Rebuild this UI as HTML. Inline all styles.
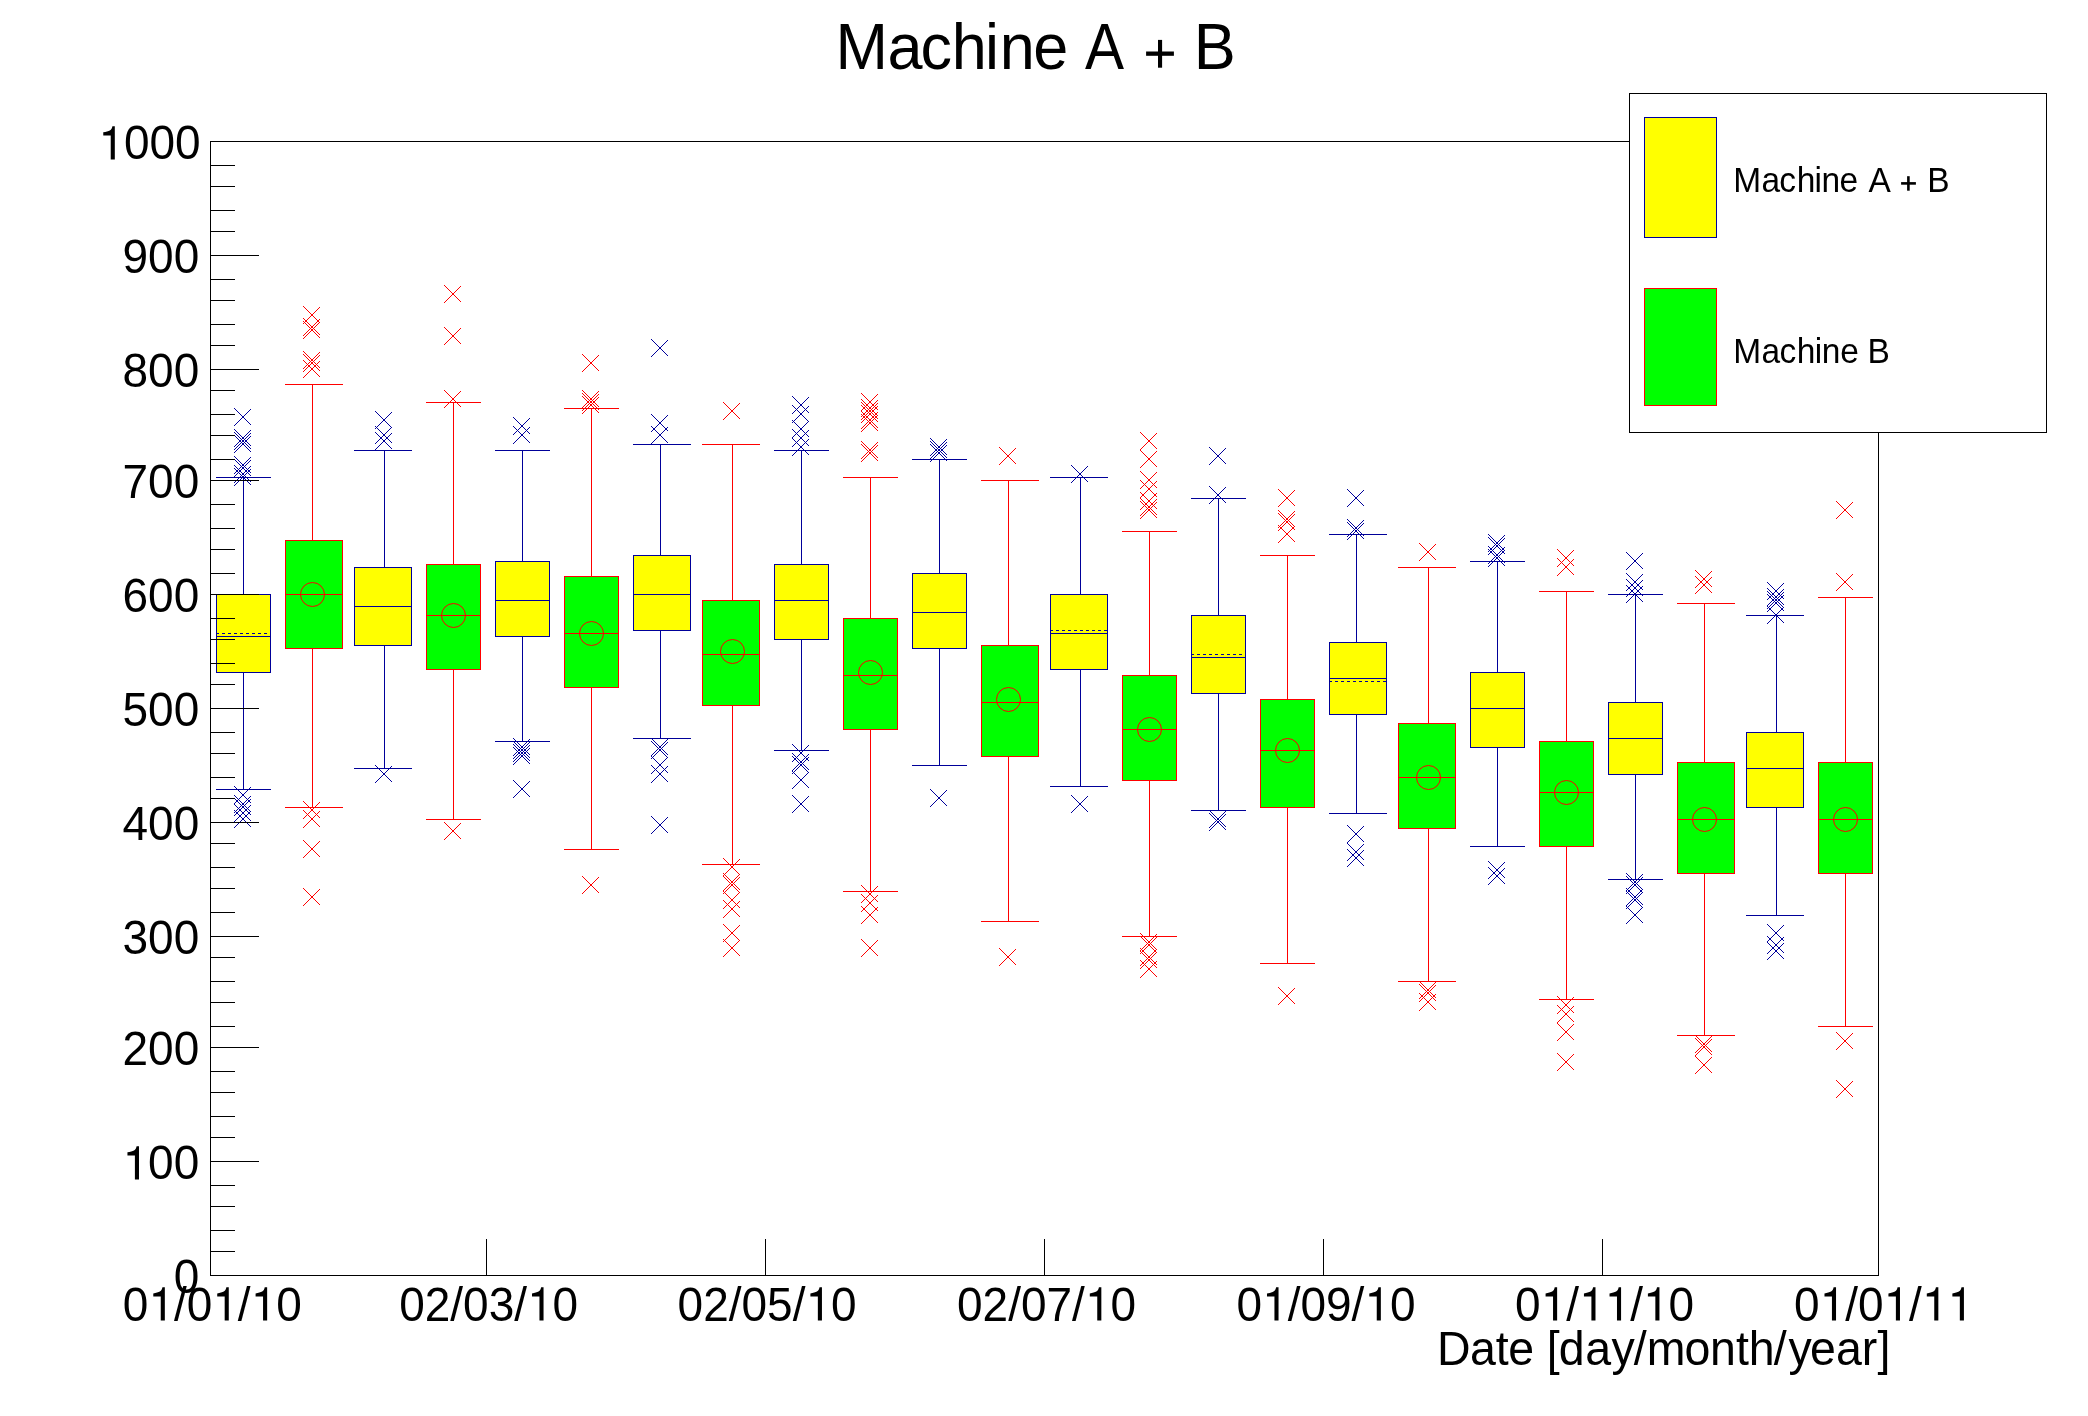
<!DOCTYPE html>
<html><head><meta charset="utf-8"><title>Machine A + B</title>
<style>
html,body{margin:0;padding:0;background:#fff;}
body{width:2088px;height:1416px;overflow:hidden;}
svg{display:block;will-change:transform;}
text{font-family:"Liberation Sans",sans-serif;fill:#000;font-kerning:none;}
</style></head><body>
<svg width="2088" height="1416" viewBox="0 0 2088 1416">
<rect x="0" y="0" width="2088" height="1416" fill="#fff"/>
<g shape-rendering="crispEdges">
<rect x="210" y="141" width="1669" height="1" fill="#000000"/>
<rect x="210" y="1275" width="1669" height="1" fill="#000000"/>
<rect x="210" y="141" width="1" height="1135" fill="#000000"/>
<rect x="1878" y="141" width="1" height="1135" fill="#000000"/>
<rect x="243" y="477" width="1" height="118" fill="#000099"/>
<rect x="243" y="672" width="1" height="118" fill="#000099"/>
<rect x="216" y="477" width="55" height="1" fill="#000099"/>
<rect x="216" y="789" width="55" height="1" fill="#000099"/>
<rect x="216" y="594" width="55" height="79" fill="#ffff00"/>
<rect x="216" y="594" width="55" height="1" fill="#000099"/>
<rect x="216" y="672" width="55" height="1" fill="#000099"/>
<rect x="216" y="594" width="1" height="79" fill="#000099"/>
<rect x="270" y="594" width="1" height="79" fill="#000099"/>
<rect x="216" y="636" width="55" height="1" fill="#000099"/>
<rect x="216" y="633" width="3" height="1" fill="#000099"/>
<rect x="222" y="633" width="3" height="1" fill="#000099"/>
<rect x="228" y="633" width="3" height="1" fill="#000099"/>
<rect x="234" y="633" width="3" height="1" fill="#000099"/>
<rect x="240" y="633" width="3" height="1" fill="#000099"/>
<rect x="246" y="633" width="3" height="1" fill="#000099"/>
<rect x="252" y="633" width="3" height="1" fill="#000099"/>
<rect x="258" y="633" width="3" height="1" fill="#000099"/>
<rect x="264" y="633" width="3" height="1" fill="#000099"/>
<rect x="312" y="384" width="1" height="157" fill="#ff0000"/>
<rect x="312" y="648" width="1" height="160" fill="#ff0000"/>
<rect x="285" y="384" width="58" height="1" fill="#ff0000"/>
<rect x="285" y="807" width="58" height="1" fill="#ff0000"/>
<rect x="285" y="540" width="58" height="109" fill="#00ff00"/>
<rect x="285" y="540" width="58" height="1" fill="#ff0000"/>
<rect x="285" y="648" width="58" height="1" fill="#ff0000"/>
<rect x="285" y="540" width="1" height="109" fill="#ff0000"/>
<rect x="342" y="540" width="1" height="109" fill="#ff0000"/>
<rect x="285" y="594" width="58" height="1" fill="#ff0000"/>
<rect x="384" y="450" width="1" height="118" fill="#000099"/>
<rect x="384" y="645" width="1" height="124" fill="#000099"/>
<rect x="354" y="450" width="58" height="1" fill="#000099"/>
<rect x="354" y="768" width="58" height="1" fill="#000099"/>
<rect x="354" y="567" width="58" height="79" fill="#ffff00"/>
<rect x="354" y="567" width="58" height="1" fill="#000099"/>
<rect x="354" y="645" width="58" height="1" fill="#000099"/>
<rect x="354" y="567" width="1" height="79" fill="#000099"/>
<rect x="411" y="567" width="1" height="79" fill="#000099"/>
<rect x="354" y="606" width="58" height="1" fill="#000099"/>
<rect x="453" y="402" width="1" height="163" fill="#ff0000"/>
<rect x="453" y="669" width="1" height="151" fill="#ff0000"/>
<rect x="426" y="402" width="55" height="1" fill="#ff0000"/>
<rect x="426" y="819" width="55" height="1" fill="#ff0000"/>
<rect x="426" y="564" width="55" height="106" fill="#00ff00"/>
<rect x="426" y="564" width="55" height="1" fill="#ff0000"/>
<rect x="426" y="669" width="55" height="1" fill="#ff0000"/>
<rect x="426" y="564" width="1" height="106" fill="#ff0000"/>
<rect x="480" y="564" width="1" height="106" fill="#ff0000"/>
<rect x="426" y="615" width="55" height="1" fill="#ff0000"/>
<rect x="522" y="450" width="1" height="112" fill="#000099"/>
<rect x="522" y="636" width="1" height="106" fill="#000099"/>
<rect x="495" y="450" width="55" height="1" fill="#000099"/>
<rect x="495" y="741" width="55" height="1" fill="#000099"/>
<rect x="495" y="561" width="55" height="76" fill="#ffff00"/>
<rect x="495" y="561" width="55" height="1" fill="#000099"/>
<rect x="495" y="636" width="55" height="1" fill="#000099"/>
<rect x="495" y="561" width="1" height="76" fill="#000099"/>
<rect x="549" y="561" width="1" height="76" fill="#000099"/>
<rect x="495" y="600" width="55" height="1" fill="#000099"/>
<rect x="591" y="408" width="1" height="169" fill="#ff0000"/>
<rect x="591" y="687" width="1" height="163" fill="#ff0000"/>
<rect x="564" y="408" width="55" height="1" fill="#ff0000"/>
<rect x="564" y="849" width="55" height="1" fill="#ff0000"/>
<rect x="564" y="576" width="55" height="112" fill="#00ff00"/>
<rect x="564" y="576" width="55" height="1" fill="#ff0000"/>
<rect x="564" y="687" width="55" height="1" fill="#ff0000"/>
<rect x="564" y="576" width="1" height="112" fill="#ff0000"/>
<rect x="618" y="576" width="1" height="112" fill="#ff0000"/>
<rect x="564" y="633" width="55" height="1" fill="#ff0000"/>
<rect x="660" y="444" width="1" height="112" fill="#000099"/>
<rect x="660" y="630" width="1" height="109" fill="#000099"/>
<rect x="633" y="444" width="58" height="1" fill="#000099"/>
<rect x="633" y="738" width="58" height="1" fill="#000099"/>
<rect x="633" y="555" width="58" height="76" fill="#ffff00"/>
<rect x="633" y="555" width="58" height="1" fill="#000099"/>
<rect x="633" y="630" width="58" height="1" fill="#000099"/>
<rect x="633" y="555" width="1" height="76" fill="#000099"/>
<rect x="690" y="555" width="1" height="76" fill="#000099"/>
<rect x="633" y="594" width="58" height="1" fill="#000099"/>
<rect x="732" y="444" width="1" height="157" fill="#ff0000"/>
<rect x="732" y="705" width="1" height="160" fill="#ff0000"/>
<rect x="702" y="444" width="58" height="1" fill="#ff0000"/>
<rect x="702" y="864" width="58" height="1" fill="#ff0000"/>
<rect x="702" y="600" width="58" height="106" fill="#00ff00"/>
<rect x="702" y="600" width="58" height="1" fill="#ff0000"/>
<rect x="702" y="705" width="58" height="1" fill="#ff0000"/>
<rect x="702" y="600" width="1" height="106" fill="#ff0000"/>
<rect x="759" y="600" width="1" height="106" fill="#ff0000"/>
<rect x="702" y="654" width="58" height="1" fill="#ff0000"/>
<rect x="801" y="450" width="1" height="115" fill="#000099"/>
<rect x="801" y="639" width="1" height="112" fill="#000099"/>
<rect x="774" y="450" width="55" height="1" fill="#000099"/>
<rect x="774" y="750" width="55" height="1" fill="#000099"/>
<rect x="774" y="564" width="55" height="76" fill="#ffff00"/>
<rect x="774" y="564" width="55" height="1" fill="#000099"/>
<rect x="774" y="639" width="55" height="1" fill="#000099"/>
<rect x="774" y="564" width="1" height="76" fill="#000099"/>
<rect x="828" y="564" width="1" height="76" fill="#000099"/>
<rect x="774" y="600" width="55" height="1" fill="#000099"/>
<rect x="870" y="477" width="1" height="142" fill="#ff0000"/>
<rect x="870" y="729" width="1" height="163" fill="#ff0000"/>
<rect x="843" y="477" width="55" height="1" fill="#ff0000"/>
<rect x="843" y="891" width="55" height="1" fill="#ff0000"/>
<rect x="843" y="618" width="55" height="112" fill="#00ff00"/>
<rect x="843" y="618" width="55" height="1" fill="#ff0000"/>
<rect x="843" y="729" width="55" height="1" fill="#ff0000"/>
<rect x="843" y="618" width="1" height="112" fill="#ff0000"/>
<rect x="897" y="618" width="1" height="112" fill="#ff0000"/>
<rect x="843" y="675" width="55" height="1" fill="#ff0000"/>
<rect x="939" y="459" width="1" height="115" fill="#000099"/>
<rect x="939" y="648" width="1" height="118" fill="#000099"/>
<rect x="912" y="459" width="55" height="1" fill="#000099"/>
<rect x="912" y="765" width="55" height="1" fill="#000099"/>
<rect x="912" y="573" width="55" height="76" fill="#ffff00"/>
<rect x="912" y="573" width="55" height="1" fill="#000099"/>
<rect x="912" y="648" width="55" height="1" fill="#000099"/>
<rect x="912" y="573" width="1" height="76" fill="#000099"/>
<rect x="966" y="573" width="1" height="76" fill="#000099"/>
<rect x="912" y="612" width="55" height="1" fill="#000099"/>
<rect x="1008" y="480" width="1" height="166" fill="#ff0000"/>
<rect x="1008" y="756" width="1" height="166" fill="#ff0000"/>
<rect x="981" y="480" width="58" height="1" fill="#ff0000"/>
<rect x="981" y="921" width="58" height="1" fill="#ff0000"/>
<rect x="981" y="645" width="58" height="112" fill="#00ff00"/>
<rect x="981" y="645" width="58" height="1" fill="#ff0000"/>
<rect x="981" y="756" width="58" height="1" fill="#ff0000"/>
<rect x="981" y="645" width="1" height="112" fill="#ff0000"/>
<rect x="1038" y="645" width="1" height="112" fill="#ff0000"/>
<rect x="981" y="702" width="58" height="1" fill="#ff0000"/>
<rect x="1080" y="477" width="1" height="118" fill="#000099"/>
<rect x="1080" y="669" width="1" height="118" fill="#000099"/>
<rect x="1050" y="477" width="58" height="1" fill="#000099"/>
<rect x="1050" y="786" width="58" height="1" fill="#000099"/>
<rect x="1050" y="594" width="58" height="76" fill="#ffff00"/>
<rect x="1050" y="594" width="58" height="1" fill="#000099"/>
<rect x="1050" y="669" width="58" height="1" fill="#000099"/>
<rect x="1050" y="594" width="1" height="76" fill="#000099"/>
<rect x="1107" y="594" width="1" height="76" fill="#000099"/>
<rect x="1050" y="633" width="58" height="1" fill="#000099"/>
<rect x="1050" y="630" width="3" height="1" fill="#000099"/>
<rect x="1056" y="630" width="3" height="1" fill="#000099"/>
<rect x="1062" y="630" width="3" height="1" fill="#000099"/>
<rect x="1068" y="630" width="3" height="1" fill="#000099"/>
<rect x="1074" y="630" width="3" height="1" fill="#000099"/>
<rect x="1080" y="630" width="3" height="1" fill="#000099"/>
<rect x="1086" y="630" width="3" height="1" fill="#000099"/>
<rect x="1092" y="630" width="3" height="1" fill="#000099"/>
<rect x="1098" y="630" width="3" height="1" fill="#000099"/>
<rect x="1104" y="630" width="3" height="1" fill="#000099"/>
<rect x="1149" y="531" width="1" height="145" fill="#ff0000"/>
<rect x="1149" y="780" width="1" height="157" fill="#ff0000"/>
<rect x="1122" y="531" width="55" height="1" fill="#ff0000"/>
<rect x="1122" y="936" width="55" height="1" fill="#ff0000"/>
<rect x="1122" y="675" width="55" height="106" fill="#00ff00"/>
<rect x="1122" y="675" width="55" height="1" fill="#ff0000"/>
<rect x="1122" y="780" width="55" height="1" fill="#ff0000"/>
<rect x="1122" y="675" width="1" height="106" fill="#ff0000"/>
<rect x="1176" y="675" width="1" height="106" fill="#ff0000"/>
<rect x="1122" y="729" width="55" height="1" fill="#ff0000"/>
<rect x="1218" y="498" width="1" height="118" fill="#000099"/>
<rect x="1218" y="693" width="1" height="118" fill="#000099"/>
<rect x="1191" y="498" width="55" height="1" fill="#000099"/>
<rect x="1191" y="810" width="55" height="1" fill="#000099"/>
<rect x="1191" y="615" width="55" height="79" fill="#ffff00"/>
<rect x="1191" y="615" width="55" height="1" fill="#000099"/>
<rect x="1191" y="693" width="55" height="1" fill="#000099"/>
<rect x="1191" y="615" width="1" height="79" fill="#000099"/>
<rect x="1245" y="615" width="1" height="79" fill="#000099"/>
<rect x="1191" y="657" width="55" height="1" fill="#000099"/>
<rect x="1191" y="654" width="3" height="1" fill="#000099"/>
<rect x="1197" y="654" width="3" height="1" fill="#000099"/>
<rect x="1203" y="654" width="3" height="1" fill="#000099"/>
<rect x="1209" y="654" width="3" height="1" fill="#000099"/>
<rect x="1215" y="654" width="3" height="1" fill="#000099"/>
<rect x="1221" y="654" width="3" height="1" fill="#000099"/>
<rect x="1227" y="654" width="3" height="1" fill="#000099"/>
<rect x="1233" y="654" width="3" height="1" fill="#000099"/>
<rect x="1239" y="654" width="3" height="1" fill="#000099"/>
<rect x="1287" y="555" width="1" height="145" fill="#ff0000"/>
<rect x="1287" y="807" width="1" height="157" fill="#ff0000"/>
<rect x="1260" y="555" width="55" height="1" fill="#ff0000"/>
<rect x="1260" y="963" width="55" height="1" fill="#ff0000"/>
<rect x="1260" y="699" width="55" height="109" fill="#00ff00"/>
<rect x="1260" y="699" width="55" height="1" fill="#ff0000"/>
<rect x="1260" y="807" width="55" height="1" fill="#ff0000"/>
<rect x="1260" y="699" width="1" height="109" fill="#ff0000"/>
<rect x="1314" y="699" width="1" height="109" fill="#ff0000"/>
<rect x="1260" y="750" width="55" height="1" fill="#ff0000"/>
<rect x="1356" y="534" width="1" height="109" fill="#000099"/>
<rect x="1356" y="714" width="1" height="100" fill="#000099"/>
<rect x="1329" y="534" width="58" height="1" fill="#000099"/>
<rect x="1329" y="813" width="58" height="1" fill="#000099"/>
<rect x="1329" y="642" width="58" height="73" fill="#ffff00"/>
<rect x="1329" y="642" width="58" height="1" fill="#000099"/>
<rect x="1329" y="714" width="58" height="1" fill="#000099"/>
<rect x="1329" y="642" width="1" height="73" fill="#000099"/>
<rect x="1386" y="642" width="1" height="73" fill="#000099"/>
<rect x="1329" y="678" width="58" height="1" fill="#000099"/>
<rect x="1329" y="681" width="3" height="1" fill="#000099"/>
<rect x="1335" y="681" width="3" height="1" fill="#000099"/>
<rect x="1341" y="681" width="3" height="1" fill="#000099"/>
<rect x="1347" y="681" width="3" height="1" fill="#000099"/>
<rect x="1353" y="681" width="3" height="1" fill="#000099"/>
<rect x="1359" y="681" width="3" height="1" fill="#000099"/>
<rect x="1365" y="681" width="3" height="1" fill="#000099"/>
<rect x="1371" y="681" width="3" height="1" fill="#000099"/>
<rect x="1377" y="681" width="3" height="1" fill="#000099"/>
<rect x="1383" y="681" width="3" height="1" fill="#000099"/>
<rect x="1428" y="567" width="1" height="157" fill="#ff0000"/>
<rect x="1428" y="828" width="1" height="154" fill="#ff0000"/>
<rect x="1398" y="567" width="58" height="1" fill="#ff0000"/>
<rect x="1398" y="981" width="58" height="1" fill="#ff0000"/>
<rect x="1398" y="723" width="58" height="106" fill="#00ff00"/>
<rect x="1398" y="723" width="58" height="1" fill="#ff0000"/>
<rect x="1398" y="828" width="58" height="1" fill="#ff0000"/>
<rect x="1398" y="723" width="1" height="106" fill="#ff0000"/>
<rect x="1455" y="723" width="1" height="106" fill="#ff0000"/>
<rect x="1398" y="777" width="58" height="1" fill="#ff0000"/>
<rect x="1497" y="561" width="1" height="112" fill="#000099"/>
<rect x="1497" y="747" width="1" height="100" fill="#000099"/>
<rect x="1470" y="561" width="55" height="1" fill="#000099"/>
<rect x="1470" y="846" width="55" height="1" fill="#000099"/>
<rect x="1470" y="672" width="55" height="76" fill="#ffff00"/>
<rect x="1470" y="672" width="55" height="1" fill="#000099"/>
<rect x="1470" y="747" width="55" height="1" fill="#000099"/>
<rect x="1470" y="672" width="1" height="76" fill="#000099"/>
<rect x="1524" y="672" width="1" height="76" fill="#000099"/>
<rect x="1470" y="708" width="55" height="1" fill="#000099"/>
<rect x="1566" y="591" width="1" height="151" fill="#ff0000"/>
<rect x="1566" y="846" width="1" height="154" fill="#ff0000"/>
<rect x="1539" y="591" width="55" height="1" fill="#ff0000"/>
<rect x="1539" y="999" width="55" height="1" fill="#ff0000"/>
<rect x="1539" y="741" width="55" height="106" fill="#00ff00"/>
<rect x="1539" y="741" width="55" height="1" fill="#ff0000"/>
<rect x="1539" y="846" width="55" height="1" fill="#ff0000"/>
<rect x="1539" y="741" width="1" height="106" fill="#ff0000"/>
<rect x="1593" y="741" width="1" height="106" fill="#ff0000"/>
<rect x="1539" y="792" width="55" height="1" fill="#ff0000"/>
<rect x="1635" y="594" width="1" height="109" fill="#000099"/>
<rect x="1635" y="774" width="1" height="106" fill="#000099"/>
<rect x="1608" y="594" width="55" height="1" fill="#000099"/>
<rect x="1608" y="879" width="55" height="1" fill="#000099"/>
<rect x="1608" y="702" width="55" height="73" fill="#ffff00"/>
<rect x="1608" y="702" width="55" height="1" fill="#000099"/>
<rect x="1608" y="774" width="55" height="1" fill="#000099"/>
<rect x="1608" y="702" width="1" height="73" fill="#000099"/>
<rect x="1662" y="702" width="1" height="73" fill="#000099"/>
<rect x="1608" y="738" width="55" height="1" fill="#000099"/>
<rect x="1704" y="603" width="1" height="160" fill="#ff0000"/>
<rect x="1704" y="873" width="1" height="163" fill="#ff0000"/>
<rect x="1677" y="603" width="58" height="1" fill="#ff0000"/>
<rect x="1677" y="1035" width="58" height="1" fill="#ff0000"/>
<rect x="1677" y="762" width="58" height="112" fill="#00ff00"/>
<rect x="1677" y="762" width="58" height="1" fill="#ff0000"/>
<rect x="1677" y="873" width="58" height="1" fill="#ff0000"/>
<rect x="1677" y="762" width="1" height="112" fill="#ff0000"/>
<rect x="1734" y="762" width="1" height="112" fill="#ff0000"/>
<rect x="1677" y="819" width="58" height="1" fill="#ff0000"/>
<rect x="1776" y="615" width="1" height="118" fill="#000099"/>
<rect x="1776" y="807" width="1" height="109" fill="#000099"/>
<rect x="1746" y="615" width="58" height="1" fill="#000099"/>
<rect x="1746" y="915" width="58" height="1" fill="#000099"/>
<rect x="1746" y="732" width="58" height="76" fill="#ffff00"/>
<rect x="1746" y="732" width="58" height="1" fill="#000099"/>
<rect x="1746" y="807" width="58" height="1" fill="#000099"/>
<rect x="1746" y="732" width="1" height="76" fill="#000099"/>
<rect x="1803" y="732" width="1" height="76" fill="#000099"/>
<rect x="1746" y="768" width="58" height="1" fill="#000099"/>
<rect x="1845" y="597" width="1" height="166" fill="#ff0000"/>
<rect x="1845" y="873" width="1" height="154" fill="#ff0000"/>
<rect x="1818" y="597" width="55" height="1" fill="#ff0000"/>
<rect x="1818" y="1026" width="55" height="1" fill="#ff0000"/>
<rect x="1818" y="762" width="55" height="112" fill="#00ff00"/>
<rect x="1818" y="762" width="55" height="1" fill="#ff0000"/>
<rect x="1818" y="873" width="55" height="1" fill="#ff0000"/>
<rect x="1818" y="762" width="1" height="112" fill="#ff0000"/>
<rect x="1872" y="762" width="1" height="112" fill="#ff0000"/>
<rect x="1818" y="819" width="55" height="1" fill="#ff0000"/>
<circle cx="312.5" cy="594.5" r="12" fill="none" stroke="#ff0000" stroke-width="1" shape-rendering="geometricPrecision"/>
<circle cx="453.5" cy="615.5" r="12" fill="none" stroke="#ff0000" stroke-width="1" shape-rendering="geometricPrecision"/>
<circle cx="591.5" cy="633.5" r="12" fill="none" stroke="#ff0000" stroke-width="1" shape-rendering="geometricPrecision"/>
<circle cx="732.5" cy="651.5" r="12" fill="none" stroke="#ff0000" stroke-width="1" shape-rendering="geometricPrecision"/>
<circle cx="870.5" cy="672.5" r="12" fill="none" stroke="#ff0000" stroke-width="1" shape-rendering="geometricPrecision"/>
<circle cx="1008.5" cy="699.5" r="12" fill="none" stroke="#ff0000" stroke-width="1" shape-rendering="geometricPrecision"/>
<circle cx="1149.5" cy="729.5" r="12" fill="none" stroke="#ff0000" stroke-width="1" shape-rendering="geometricPrecision"/>
<circle cx="1287.5" cy="750.5" r="12" fill="none" stroke="#ff0000" stroke-width="1" shape-rendering="geometricPrecision"/>
<circle cx="1428.5" cy="777.5" r="12" fill="none" stroke="#ff0000" stroke-width="1" shape-rendering="geometricPrecision"/>
<circle cx="1566.5" cy="792.5" r="12" fill="none" stroke="#ff0000" stroke-width="1" shape-rendering="geometricPrecision"/>
<circle cx="1704.5" cy="819.5" r="12" fill="none" stroke="#ff0000" stroke-width="1" shape-rendering="geometricPrecision"/>
<circle cx="1845.5" cy="819.5" r="12" fill="none" stroke="#ff0000" stroke-width="1" shape-rendering="geometricPrecision"/>
<path d="M234 408L251 425M251 409L234 426M234 429L251 446M251 430L234 447M234 432L251 449M251 433L234 450M234 435L251 452M251 436L234 453M234 456L251 473M251 457L234 474M234 459L251 476M251 460L234 477M234 465L251 482M251 466L234 483M234 468L251 485M251 469L234 486M234 786L251 803M251 787L234 804M234 795L251 812M251 796L234 813M234 798L251 815M251 799L234 816M234 804L251 821M251 805L234 822M234 810L251 827M251 811L234 828M375 411L392 428M392 412L375 429M375 426L392 443M392 427L375 444M375 432L392 449M392 433L375 450M375 765L392 782M392 766L375 783M513 417L530 434M530 418L513 435M513 426L530 443M530 427L513 444M513 738L530 755M530 739L513 756M513 741L530 758M530 742L513 759M513 744L530 761M530 745L513 762M513 747L530 764M530 748L513 765M513 780L530 797M530 781L513 798M651 339L668 356M668 340L651 357M651 414L668 431M668 415L651 432M651 426L668 443M668 427L651 444M651 738L668 755M668 739L651 756M651 741L668 758M668 742L651 759M651 756L668 773M668 757L651 774M651 765L668 782M668 766L651 783M651 816L668 833M668 817L651 834M792 396L809 413M809 397L792 414M792 405L809 422M809 406L792 423M792 420L809 437M809 421L792 438M792 429L809 446M809 430L792 447M792 438L809 455M809 439L792 456M792 744L809 761M809 745L792 762M792 753L809 770M809 754L792 771M792 756L809 773M809 757L792 774M792 771L809 788M809 772L792 789M792 795L809 812M809 796L792 813M930 438L947 455M947 439L930 456M930 441L947 458M947 442L930 459M930 444L947 461M947 445L930 462M930 789L947 806M947 790L930 807M1071 465L1088 482M1088 466L1071 483M1071 795L1088 812M1088 796L1071 813M1209 447L1226 464M1226 448L1209 465M1209 486L1226 503M1226 487L1209 504M1209 810L1226 827M1226 811L1209 828M1209 813L1226 830M1226 814L1209 831M1347 489L1364 506M1364 490L1347 507M1347 519L1364 536M1364 520L1347 537M1347 522L1364 539M1364 523L1347 540M1347 825L1364 842M1364 826L1347 843M1347 843L1364 860M1364 844L1347 861M1347 849L1364 866M1364 850L1347 867M1488 534L1505 551M1505 535L1488 552M1488 537L1505 554M1505 538L1488 555M1488 546L1505 563M1505 547L1488 564M1488 549L1505 566M1505 550L1488 567M1488 861L1505 878M1505 862L1488 879M1488 867L1505 884M1505 868L1488 885M1626 552L1643 569M1643 553L1626 570M1626 573L1643 590M1643 574L1626 591M1626 579L1643 596M1643 580L1626 597M1626 585L1643 602M1643 586L1626 603M1626 873L1643 890M1643 874L1626 891M1626 876L1643 893M1643 877L1626 894M1626 888L1643 905M1643 889L1626 906M1626 891L1643 908M1643 892L1626 909M1626 906L1643 923M1643 907L1626 924M1767 582L1784 599M1784 583L1767 600M1767 588L1784 605M1784 589L1767 606M1767 591L1784 608M1784 592L1767 609M1767 594L1784 611M1784 595L1767 612M1767 606L1784 623M1784 607L1767 624M1767 924L1784 941M1784 925L1767 942M1767 936L1784 953M1784 937L1767 954M1767 942L1784 959M1784 943L1767 960" stroke="#000099" stroke-width="1" fill="none" shape-rendering="crispEdges"/>
<path d="M303 306L320 323M320 307L303 324M303 318L320 335M320 319L303 336M303 321L320 338M320 322L303 339M303 351L320 368M320 352L303 369M303 354L320 371M320 355L303 372M303 360L320 377M320 361L303 378M303 801L320 818M320 802L303 819M303 810L320 827M320 811L303 828M303 840L320 857M320 841L303 858M303 888L320 905M320 889L303 906M444 285L461 302M461 286L444 303M444 327L461 344M461 328L444 345M444 390L461 407M461 391L444 408M444 822L461 839M461 823L444 840M582 354L599 371M599 355L582 372M582 390L599 407M599 391L582 408M582 393L599 410M599 394L582 411M582 396L599 413M599 397L582 414M582 876L599 893M599 877L582 894M723 402L740 419M740 403L723 420M723 858L740 875M740 859L723 876M723 873L740 890M740 874L723 891M723 876L740 893M740 877L723 894M723 891L740 908M740 892L723 909M723 900L740 917M740 901L723 918M723 924L740 941M740 925L723 942M723 939L740 956M740 940L723 957M861 393L878 410M878 394L861 411M861 399L878 416M878 400L861 417M861 402L878 419M878 403L861 420M861 405L878 422M878 406L861 423M861 411L878 428M878 412L861 429M861 414L878 431M878 415L861 432M861 441L878 458M878 442L861 459M861 444L878 461M878 445L861 462M861 885L878 902M878 886L861 903M861 894L878 911M878 895L861 912M861 906L878 923M878 907L861 924M861 939L878 956M878 940L861 957M999 447L1016 464M1016 448L999 465M999 948L1016 965M1016 949L999 966M1140 432L1157 449M1157 433L1140 450M1140 450L1157 467M1157 451L1140 468M1140 471L1157 488M1157 472L1140 489M1140 480L1157 497M1157 481L1140 498M1140 492L1157 509M1157 493L1140 510M1140 498L1157 515M1157 499L1140 516M1140 501L1157 518M1157 502L1140 519M1140 933L1157 950M1157 934L1140 951M1140 936L1157 953M1157 937L1140 954M1140 948L1157 965M1157 949L1140 966M1140 951L1157 968M1157 952L1140 969M1140 960L1157 977M1157 961L1140 978M1278 489L1295 506M1295 490L1278 507M1278 510L1295 527M1295 511L1278 528M1278 513L1295 530M1295 514L1278 531M1278 525L1295 542M1295 526L1278 543M1278 987L1295 1004M1295 988L1278 1005M1419 543L1436 560M1436 544L1419 561M1419 981L1436 998M1436 982L1419 999M1419 984L1436 1001M1436 985L1419 1002M1419 993L1436 1010M1436 994L1419 1011M1557 549L1574 566M1574 550L1557 567M1557 558L1574 575M1574 559L1557 576M1557 996L1574 1013M1574 997L1557 1014M1557 1005L1574 1022M1574 1006L1557 1023M1557 1023L1574 1040M1574 1024L1557 1041M1557 1053L1574 1070M1574 1054L1557 1071M1695 570L1712 587M1712 571L1695 588M1695 576L1712 593M1712 577L1695 594M1695 1035L1712 1052M1712 1036L1695 1053M1695 1038L1712 1055M1712 1039L1695 1056M1695 1056L1712 1073M1712 1057L1695 1074M1836 501L1853 518M1853 502L1836 519M1836 573L1853 590M1853 574L1836 591M1836 1032L1853 1049M1853 1033L1836 1050M1836 1080L1853 1097M1853 1081L1836 1098" stroke="#ff0000" stroke-width="1" fill="none" shape-rendering="crispEdges"/>
<rect x="210" y="1275" width="49" height="1" fill="#000000"/>
<rect x="210" y="1251" width="25" height="1" fill="#000000"/>
<rect x="210" y="1230" width="25" height="1" fill="#000000"/>
<rect x="210" y="1206" width="25" height="1" fill="#000000"/>
<rect x="210" y="1185" width="25" height="1" fill="#000000"/>
<rect x="210" y="1161" width="49" height="1" fill="#000000"/>
<rect x="210" y="1137" width="25" height="1" fill="#000000"/>
<rect x="210" y="1116" width="25" height="1" fill="#000000"/>
<rect x="210" y="1092" width="25" height="1" fill="#000000"/>
<rect x="210" y="1071" width="25" height="1" fill="#000000"/>
<rect x="210" y="1047" width="49" height="1" fill="#000000"/>
<rect x="210" y="1026" width="25" height="1" fill="#000000"/>
<rect x="210" y="1002" width="25" height="1" fill="#000000"/>
<rect x="210" y="981" width="25" height="1" fill="#000000"/>
<rect x="210" y="957" width="25" height="1" fill="#000000"/>
<rect x="210" y="936" width="49" height="1" fill="#000000"/>
<rect x="210" y="912" width="25" height="1" fill="#000000"/>
<rect x="210" y="888" width="25" height="1" fill="#000000"/>
<rect x="210" y="867" width="25" height="1" fill="#000000"/>
<rect x="210" y="843" width="25" height="1" fill="#000000"/>
<rect x="210" y="822" width="49" height="1" fill="#000000"/>
<rect x="210" y="798" width="25" height="1" fill="#000000"/>
<rect x="210" y="777" width="25" height="1" fill="#000000"/>
<rect x="210" y="753" width="25" height="1" fill="#000000"/>
<rect x="210" y="732" width="25" height="1" fill="#000000"/>
<rect x="210" y="708" width="49" height="1" fill="#000000"/>
<rect x="210" y="684" width="25" height="1" fill="#000000"/>
<rect x="210" y="663" width="25" height="1" fill="#000000"/>
<rect x="210" y="639" width="25" height="1" fill="#000000"/>
<rect x="210" y="618" width="25" height="1" fill="#000000"/>
<rect x="210" y="594" width="49" height="1" fill="#000000"/>
<rect x="210" y="573" width="25" height="1" fill="#000000"/>
<rect x="210" y="549" width="25" height="1" fill="#000000"/>
<rect x="210" y="528" width="25" height="1" fill="#000000"/>
<rect x="210" y="504" width="25" height="1" fill="#000000"/>
<rect x="210" y="480" width="49" height="1" fill="#000000"/>
<rect x="210" y="459" width="25" height="1" fill="#000000"/>
<rect x="210" y="435" width="25" height="1" fill="#000000"/>
<rect x="210" y="414" width="25" height="1" fill="#000000"/>
<rect x="210" y="390" width="25" height="1" fill="#000000"/>
<rect x="210" y="369" width="49" height="1" fill="#000000"/>
<rect x="210" y="345" width="25" height="1" fill="#000000"/>
<rect x="210" y="324" width="25" height="1" fill="#000000"/>
<rect x="210" y="300" width="25" height="1" fill="#000000"/>
<rect x="210" y="279" width="25" height="1" fill="#000000"/>
<rect x="210" y="255" width="49" height="1" fill="#000000"/>
<rect x="210" y="231" width="25" height="1" fill="#000000"/>
<rect x="210" y="210" width="25" height="1" fill="#000000"/>
<rect x="210" y="186" width="25" height="1" fill="#000000"/>
<rect x="210" y="165" width="25" height="1" fill="#000000"/>
<rect x="210" y="141" width="49" height="1" fill="#000000"/>
<rect x="486" y="1239" width="1" height="37" fill="#000000"/>
<rect x="765" y="1239" width="1" height="37" fill="#000000"/>
<rect x="1044" y="1239" width="1" height="37" fill="#000000"/>
<rect x="1323" y="1239" width="1" height="37" fill="#000000"/>
<rect x="1602" y="1239" width="1" height="37" fill="#000000"/>
</g>
<text x="173.72" y="0" transform="translate(0 1293.4) scale(1 1.035)" font-size="46">0</text>
<text x="122.55" y="0" transform="translate(0 1179.4) scale(1 1.035)" font-size="46"> 00</text><path d="M550 0L732 0L732 1430L625 1430C610 1350 580 1285 510 1245C450 1210 340 1185 218 1165L218 1030L550 1030Z" transform="translate(122.55 1179.4) scale(0.022461 -0.023247)" fill="#000"/>
<text x="122.55" y="0" transform="translate(0 1065.4) scale(1 1.035)" font-size="46">200</text>
<text x="122.55" y="0" transform="translate(0 954.4) scale(1 1.035)" font-size="46">300</text>
<text x="122.55" y="0" transform="translate(0 840.4) scale(1 1.035)" font-size="46">400</text>
<text x="122.55" y="0" transform="translate(0 726.4) scale(1 1.035)" font-size="46">500</text>
<text x="122.55" y="0" transform="translate(0 612.4) scale(1 1.035)" font-size="46">600</text>
<text x="122.55" y="0" transform="translate(0 498.4) scale(1 1.035)" font-size="46">700</text>
<text x="122.55" y="0" transform="translate(0 387.4) scale(1 1.035)" font-size="46">800</text>
<text x="122.55" y="0" transform="translate(0 273.4) scale(1 1.035)" font-size="46">900</text>
<text x="98.37" y="0" transform="translate(0 159.4) scale(1 1.035)" font-size="46"> 000</text><path d="M550 0L732 0L732 1430L625 1430C610 1350 580 1285 510 1245C450 1210 340 1185 218 1165L218 1030L550 1030Z" transform="translate(98.37 159.4) scale(0.022461 -0.023247)" fill="#000"/>
<text x="122.8" y="0" transform="translate(0 1320.5) scale(1 1.035)" font-size="46">0 /0 / 0</text><path d="M550 0L732 0L732 1430L625 1430C610 1350 580 1285 510 1245C450 1210 340 1185 218 1165L218 1030L550 1030Z" transform="translate(148.39 1320.5) scale(0.022461 -0.023247)" fill="#000"/><path d="M550 0L732 0L732 1430L625 1430C610 1350 580 1285 510 1245C450 1210 340 1185 218 1165L218 1030L550 1030Z" transform="translate(212.33 1320.5) scale(0.022461 -0.023247)" fill="#000"/><path d="M550 0L732 0L732 1430L625 1430C610 1350 580 1285 510 1245C450 1210 340 1185 218 1165L218 1030L550 1030Z" transform="translate(250.7 1320.5) scale(0.022461 -0.023247)" fill="#000"/>
<text x="399.2" y="0" transform="translate(0 1320.5) scale(1 1.035)" font-size="46">02/03/ 0</text><path d="M550 0L732 0L732 1430L625 1430C610 1350 580 1285 510 1245C450 1210 340 1185 218 1165L218 1030L550 1030Z" transform="translate(527.1 1320.5) scale(0.022461 -0.023247)" fill="#000"/>
<text x="677.6" y="0" transform="translate(0 1320.5) scale(1 1.035)" font-size="46">02/05/ 0</text><path d="M550 0L732 0L732 1430L625 1430C610 1350 580 1285 510 1245C450 1210 340 1185 218 1165L218 1030L550 1030Z" transform="translate(805.5 1320.5) scale(0.022461 -0.023247)" fill="#000"/>
<text x="957.0" y="0" transform="translate(0 1320.5) scale(1 1.035)" font-size="46">02/07/ 0</text><path d="M550 0L732 0L732 1430L625 1430C610 1350 580 1285 510 1245C450 1210 340 1185 218 1165L218 1030L550 1030Z" transform="translate(1084.9 1320.5) scale(0.022461 -0.023247)" fill="#000"/>
<text x="1236.5" y="0" transform="translate(0 1320.5) scale(1 1.035)" font-size="46">0 /09/ 0</text><path d="M550 0L732 0L732 1430L625 1430C610 1350 580 1285 510 1245C450 1210 340 1185 218 1165L218 1030L550 1030Z" transform="translate(1262.09 1320.5) scale(0.022461 -0.023247)" fill="#000"/><path d="M550 0L732 0L732 1430L625 1430C610 1350 580 1285 510 1245C450 1210 340 1185 218 1165L218 1030L550 1030Z" transform="translate(1364.4 1320.5) scale(0.022461 -0.023247)" fill="#000"/>
<text x="1515.1" y="0" transform="translate(0 1320.5) scale(1 1.035)" font-size="46">0 /  / 0</text><path d="M550 0L732 0L732 1430L625 1430C610 1350 580 1285 510 1245C450 1210 340 1185 218 1165L218 1030L550 1030Z" transform="translate(1540.69 1320.5) scale(0.022461 -0.023247)" fill="#000"/><path d="M550 0L732 0L732 1430L625 1430C610 1350 580 1285 510 1245C450 1210 340 1185 218 1165L218 1030L550 1030Z" transform="translate(1579.05 1320.5) scale(0.022461 -0.023247)" fill="#000"/><path d="M550 0L732 0L732 1430L625 1430C610 1350 580 1285 510 1245C450 1210 340 1185 218 1165L218 1030L550 1030Z" transform="translate(1604.63 1320.5) scale(0.022461 -0.023247)" fill="#000"/><path d="M550 0L732 0L732 1430L625 1430C610 1350 580 1285 510 1245C450 1210 340 1185 218 1165L218 1030L550 1030Z" transform="translate(1643.0 1320.5) scale(0.022461 -0.023247)" fill="#000"/>
<text x="1794.0" y="0" transform="translate(0 1320.5) scale(1 1.035)" font-size="46">0 /0 /  </text><path d="M550 0L732 0L732 1430L625 1430C610 1350 580 1285 510 1245C450 1210 340 1185 218 1165L218 1030L550 1030Z" transform="translate(1819.59 1320.5) scale(0.022461 -0.023247)" fill="#000"/><path d="M550 0L732 0L732 1430L625 1430C610 1350 580 1285 510 1245C450 1210 340 1185 218 1165L218 1030L550 1030Z" transform="translate(1883.53 1320.5) scale(0.022461 -0.023247)" fill="#000"/><path d="M550 0L732 0L732 1430L625 1430C610 1350 580 1285 510 1245C450 1210 340 1185 218 1165L218 1030L550 1030Z" transform="translate(1921.9 1320.5) scale(0.022461 -0.023247)" fill="#000"/><path d="M550 0L732 0L732 1430L625 1430C610 1350 580 1285 510 1245C450 1210 340 1185 218 1165L218 1030L550 1030Z" transform="translate(1947.48 1320.5) scale(0.022461 -0.023247)" fill="#000"/>
<text x="1437.09 1470.02 1495.7 1508.22 1509.224658203125 1546.79 1558.85 1585.22 1611.49 1633.7 1646.71 1684.45 1710.01 1736.1 1748.78 1773.8 1788.39 1810.02 1835.92 1861.71 1877.44" y="0" transform="translate(0 1365) scale(1 1.04)" font-size="46.5">Date [day/month/year]</text>
<text x="835.43 887.42 920.62 951.73 984.99 999.82 1033.22" y="0" transform="translate(0 68.9) scale(1 1.032)" font-size="63">Machine</text>
<text x="-0.12" y="0" transform="translate(1085.2 68.9) scale(0.93 1.032)" font-size="63">A</text>
<text x="1193.73" y="0" transform="translate(0 68.9) scale(1 1.032)" font-size="63">B</text>
<rect x="1146.1" y="51.5" width="27.8" height="4.3" fill="#000"/><rect x="1158" y="39.9" width="4.1" height="27.8" fill="#000"/>
<g shape-rendering="crispEdges">
<rect x="1629" y="93" width="418" height="340" fill="#ffffff"/>
<rect x="1629" y="93" width="418" height="1" fill="#000"/>
<rect x="1629" y="432" width="418" height="1" fill="#000"/>
<rect x="1629" y="93" width="1" height="340" fill="#000"/>
<rect x="2046" y="93" width="1" height="340" fill="#000"/>
<rect x="1644" y="117" width="73" height="121" fill="#ffff00"/>
<rect x="1644" y="117" width="73" height="1" fill="#000099"/>
<rect x="1644" y="237" width="73" height="1" fill="#000099"/>
<rect x="1644" y="117" width="1" height="121" fill="#000099"/>
<rect x="1716" y="117" width="1" height="121" fill="#000099"/>
<rect x="1644" y="288" width="73" height="118" fill="#00ff00"/>
<rect x="1644" y="288" width="73" height="1" fill="#ff0000"/>
<rect x="1644" y="405" width="73" height="1" fill="#ff0000"/>
<rect x="1644" y="288" width="1" height="118" fill="#ff0000"/>
<rect x="1716" y="288" width="1" height="118" fill="#ff0000"/>
</g>
<text x="1733.15 1761.48 1779.18 1796.68 1814.46 1821.58 1839.58 1840.576904296875 1868.43" y="0" transform="translate(0 192) scale(1 1.035)" font-size="33.5">Machine A</text><text x="1927.15" y="0" transform="translate(0 192) scale(1 1.035)" font-size="33.5">B</text><rect x="1901.1" y="182.1" width="14.8" height="2.6" fill="#000"/><rect x="1907.1" y="176.2" width="2.6" height="14.5" fill="#000"/>
<text x="1733.35 1761.58 1779.48 1796.78 1814.76 1821.88 1840.18 1841.176904296875 1867.45" y="0" transform="translate(0 363) scale(1 1.035)" font-size="33.5">Machine B</text>
</svg>
</body></html>
